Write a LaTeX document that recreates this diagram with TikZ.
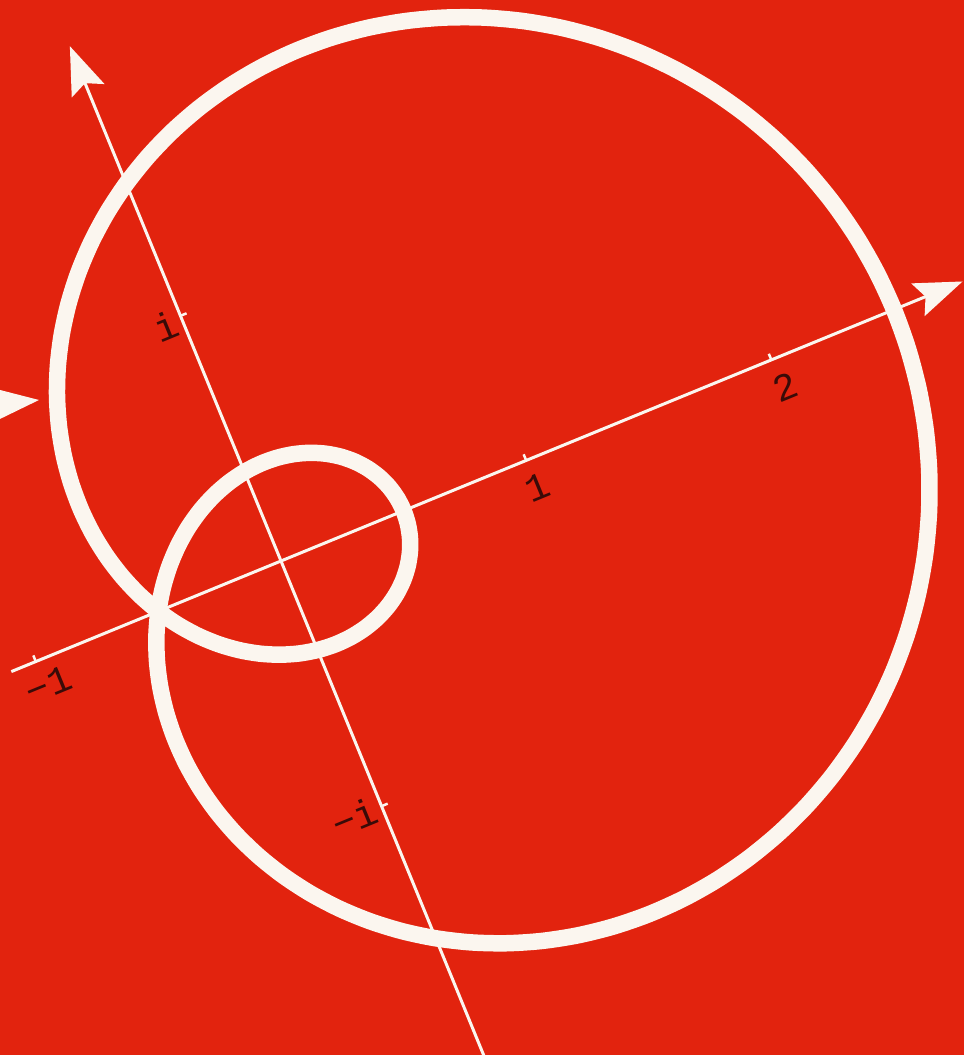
\documentclass[tikz,border=0pt]{standalone}
\usepackage{fontspec}
\newfontfamily\axisfont{Liberation Mono}
\usetikzlibrary{arrows.meta,positioning}
\definecolor{coverred}{HTML}{E2230E}
\definecolor{chalk}{HTML}{FBF6EF}
\definecolor{inkdark}{HTML}{3A0B08}
\tikzset{
  axisline/.style={
    draw=chalk,
    line width=0.06cm
  },
  axisarrow/.style={
    axisline,
    -{Stealth[length=0.96cm,width=0.7cm,inset=0.16cm]}
  },
  tickmark/.style={
    draw=chalk,
    line width=0.05cm
  },
  loopcurve/.style={
    draw=chalk,
    line width=0.33cm,
    line join=round
  },
  ticklabel/.style={
    text=inkdark,
    font=\axisfont\fontsize{22}{22}\selectfont,
    rotate=22.3,
    inner sep=0pt
  }
}

\begin{document}
\begin{tikzpicture}
\useasboundingbox (0,0) rectangle (19.28,21.1);
\clip (0,0) rectangle (19.28,21.1);
\fill[coverred] (0,0) rectangle (19.28,21.1);

% stray arrow at the left edge
\coordinate (stub) at (-1.0,12.92);
\coordinate (stubtip) at (0.78,13.10);
\draw[axisarrow] (stub) -- (stubtip);

\begin{scope}[shift={(5.62,9.88)},rotate=22.3,x=5.3cm,y=5.3cm]
  % axes
  \coordinate (releft) at (-1.1,0);
  \coordinate (reright) at (2.78,0);
  \coordinate (imlow) at (0,-2.03);
  \coordinate (imhigh) at (0,2.1);
  \draw[axisarrow] (releft) -- (reright);
  \draw[axisarrow] (imlow) -- (imhigh);
  \foreach \x in {-1,1,2} {
    \draw[tickmark] (\x,0) -- (\x,0.025);
  }
  \foreach \y in {-1,1} {
    \draw[tickmark] (0,\y) -- (0.025,\y);
  }

  % the curve 1/2 + e^{it} + e^{2it}
  \draw[loopcurve] plot[domain=0:357,samples=120,smooth cycle]
    ({0.5+cos(\x)+cos(2*\x)},{sin(\x)+sin(2*\x)});

  % labels
  \node[ticklabel] (lblmone) at (-0.99,-0.10) {\char"2212 1};
  \node[ticklabel] (lblone) at (1.0,-0.11) {1};
  \node[ticklabel] (lbltwo) at (2.01,-0.114) {2};
  \node[ticklabel] (lbli) at (-0.065,0.985) {i};
  \node[ticklabel] (lblmi) at (-0.11,-1.0) {\char"2212 i};
\end{scope}
\end{tikzpicture}
\end{document}
